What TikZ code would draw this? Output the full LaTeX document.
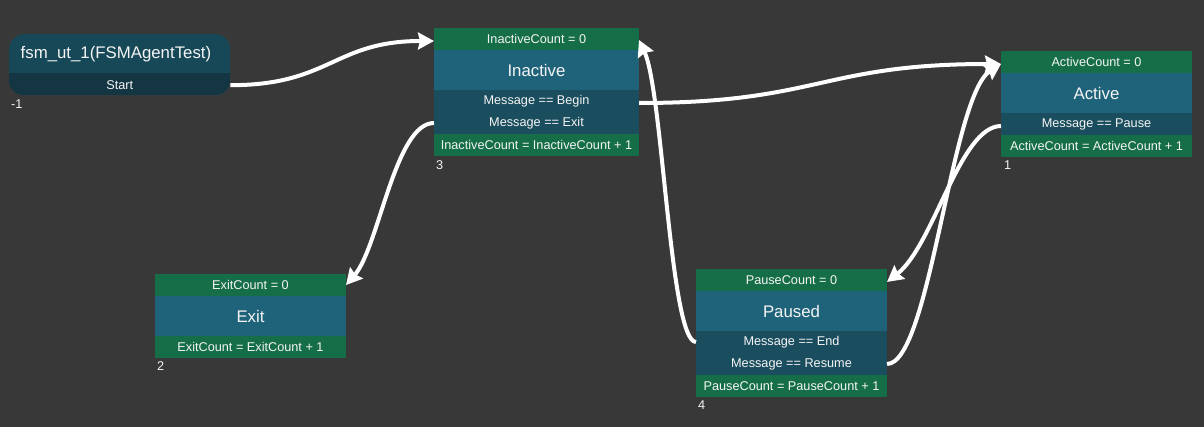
\documentclass[tikz,border=0pt]{standalone}
\usepackage{fontspec}
\setmainfont{Liberation Sans}
\usetikzlibrary{arrows.meta}
\definecolor{bg}{HTML}{383838}
\definecolor{hdrgreen}{HTML}{156E48}
\definecolor{ttlblue}{HTML}{1F637A}
\definecolor{conddark}{HTML}{1A4D5E}
\definecolor{starttop}{HTML}{174858}
\definecolor{startbot}{HTML}{143642}
\definecolor{txt}{HTML}{F4F4F4}
\tikzset{
  x=1pt, y=-1pt,
  sec/.style={anchor=north west, inner sep=0pt, outer sep=0pt, text=txt,
    font=\fontsize{12.7}{14}\selectfont, minimum height=22pt},
  hdr/.style={sec, fill=hdrgreen},
  cnd/.style={sec, fill=conddark},
  ttl/.style={sec, fill=ttlblue, minimum height=40pt, font=\fontsize{16.8}{19}\selectfont},
  idx/.style={anchor=north west, inner sep=0pt, text=txt, font=\fontsize{12.7}{14}\selectfont},
  edge/.style={draw=white, line width=4pt, -{Stealth[length=16pt,width=17pt,inset=2pt]}},
}
\begin{document}
\begin{tikzpicture}
\useasboundingbox[fill=bg] (0,0) rectangle (1204,427);

% Start node
\node[anchor=north west, inner sep=0pt, minimum width=221pt, minimum height=61pt,
  fill=starttop, rounded corners=15pt] (start) at (9,34) {};
\begin{scope}
  \clip[rounded corners=15pt] (9,34) rectangle (230,95);
  \fill[startbot] (9,73) rectangle (230,95);
\end{scope}
\node[anchor=west, inner sep=0pt, text=txt, font=\fontsize{16.8}{19}\selectfont] (startT) at (20.5,54) {fsm\_ut\_1(FSMAgentTest)};
\node[anchor=north west, inner sep=0pt, minimum width=221pt, minimum height=22pt, text=txt,
  font=\fontsize{12.7}{14}\selectfont] (startS) at (9,74) {Start};
\node[idx] (startN) at (11,100) {-1};

% Inactive
\node[hdr, minimum width=205pt] (inH) at (434,28) {InactiveCount = 0};
\node[ttl, minimum width=205pt] (inT) at (434,50) {Inactive};
\node[cnd, minimum width=205pt] (inC1) at (434,90) {Message == Begin};
\node[cnd, minimum width=205pt] (inC2) at (434,112) {Message == Exit};
\node[hdr, minimum width=205pt] (inF) at (434,134) {InactiveCount = InactiveCount + 1};
\node[idx] (inN) at (436,160) {3};

% Active
\node[hdr, minimum width=191pt] (acH) at (1001,51) {ActiveCount = 0};
\node[ttl, minimum width=191pt] (acT) at (1001,73) {Active};
\node[cnd, minimum width=191pt] (acC) at (1001,113) {Message == Pause};
\node[hdr, minimum width=191pt] (acF) at (1001,135) {ActiveCount = ActiveCount + 1};
\node[idx] (acN) at (1004,161) {1};

% Exit
\node[hdr, minimum width=191pt] (exH) at (155,274) {ExitCount = 0};
\node[ttl, minimum width=191pt] (exT) at (155,296) {Exit};
\node[hdr, minimum width=191pt] (exF) at (155,336) {ExitCount = ExitCount + 1};
\node[idx] (exN) at (157,361) {2};

% Paused
\node[hdr, minimum width=191pt] (paH) at (696,269) {PauseCount = 0};
\node[ttl, minimum width=191pt] (paT) at (696,291) {Paused};
\node[cnd, minimum width=191pt] (paC1) at (696,331) {Message == End};
\node[cnd, minimum width=191pt] (paC2) at (696,353) {Message == Resume};
\node[hdr, minimum width=191pt] (paF) at (696,375) {PauseCount = PauseCount + 1};
\node[idx] (paN) at (698,401) {4};

% Edges
\draw[edge] (startS.east) .. controls +(100,0) and +(-100,0) .. ([yshift=-2pt]inH.west);
\draw[edge] ([yshift=-2pt]inC1.east) .. controls +(180,0) and +(-180,0) .. ([yshift=-2pt]acH.west);
\draw[edge] (inC2.west) .. controls +(-39,0) and +(33,-38) .. (exH.east);
\draw[edge] (paC1.west) .. controls +(-26,0) and +(24,52) .. ([yshift=-1pt]inH.east);
\draw[edge] ([yshift=-2pt]acC.west) .. controls +(-41,0) and +(47,-37) .. ([yshift=-2pt]paH.east);
\draw[edge] (paC2.east) .. controls +(43,0) and +(-50,32) .. ([yshift=-2pt]acH.west);
\end{tikzpicture}
\end{document}
